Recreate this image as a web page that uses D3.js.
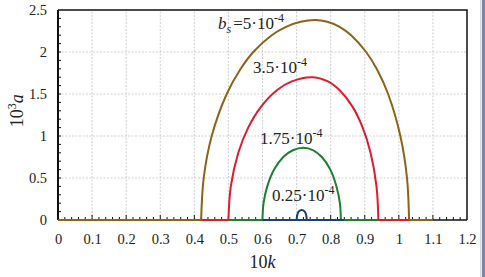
<!DOCTYPE html>
<html>
<head>
<meta charset="utf-8">
<script src="https://cdn.jsdelivr.net/npm/d3@7"></script>
<style>
  body { margin: 0; background: #fff; }
  text { font-family: "Liberation Serif", "Times New Roman", serif; fill: #222; }
</style>
</head>
<body>
<svg id="svg" width="485" height="277"></svg>
<script>
let svg = d3.select("#svg");

/* Data (k in units of 0.1, a in units of 1e-3) */
let xTicks = [0, 0.1, 0.2, 0.3, 0.4, 0.5, 0.6, 0.7, 0.8, 0.9, 1, 1.1, 1.2];
let yTicks = [0, 0.5, 1, 1.5, 2, 2.5];

let seriesNames = ["5e-4", "3.5e-4", "1.75e-4", "0.25e-4"];
let seriesColors = ["#8a6418", "#e01a2e", "#1e7e34", "#1f3c78"];
let baseFrom = [0, 0.42, 0.5, 0.6];
let baseTo = [1.1, 1.03, 0.94, 0.84];

let brownK = [0.42, 0.4275, 0.451, 0.495, 0.536, 0.573, 0.627, 0.669, 0.712, 0.755, 0.790, 0.826, 0.860, 0.904, 0.935, 0.9685, 1.0045, 1.024, 1.03];
let brownA = [0, 0.5, 1.0, 1.5, 1.8, 2.0, 2.2, 2.3, 2.36, 2.38, 2.36, 2.3, 2.2, 2.0, 1.8, 1.5, 1.0, 0.5, 0];

let redK = [0.50, 0.507, 0.529, 0.558, 0.596, 0.644, 0.686, 0.745, 0.792, 0.825, 0.864, 0.894, 0.917, 0.9345, 0.94];
let redA = [0, 0.4, 0.8, 1.1, 1.35, 1.55, 1.65, 1.70, 1.65, 1.55, 1.35, 1.1, 0.8, 0.4, 0];

let greenK = [0.600, 0.603, 0.614, 0.634, 0.661, 0.689, 0.72, 0.749, 0.774, 0.799, 0.817, 0.827, 0.83];
let greenA = [0, 0.2, 0.4, 0.6, 0.75, 0.83, 0.86, 0.83, 0.75, 0.6, 0.4, 0.2, 0];

let blueK = [0.700, 0.702, 0.706, 0.715, 0.724, 0.728, 0.73];
let blueA = [0, 0.06, 0.1, 0.12, 0.1, 0.06, 0];

let curvesK = [brownK, redK, greenK, blueK];
let curvesA = [brownA, redA, greenA, blueA];

let margin = { left: 58, right: 18, top: 10, bottom: 57 };
let W = 485, H = 277;

let x = d3.scaleLinear().domain([0, 1.2]).range([margin.left, W - margin.right]);
let y = d3.scaleLinear().domain([0, 2.5]).range([H - margin.bottom, margin.top]);

svg.append("rect").attr("width", W).attr("height", H).attr("fill", "#fff");

/* Grid */
let grid = svg.append("g")
  .attr("stroke", "#c4c4c4")
  .attr("stroke-width", 0.8)
  .attr("stroke-dasharray", "2,1.5");
d3.range(1, 12).map(d => d / 10).forEach(d => {
  grid.append("line")
    .attr("x1", x(d)).attr("x2", x(d))
    .attr("y1", y(0)).attr("y2", y(2.5));
});
yTicks.slice(1, -1).forEach(d => {
  grid.append("line")
    .attr("x1", x(0)).attr("x2", x(1.2))
    .attr("y1", y(d)).attr("y2", y(d));
});

/* Frame top + right */
svg.append("path")
  .attr("d", `M${x(0)},${y(2.5)}H${x(1.2)}V${y(0)}`)
  .attr("fill", "none")
  .attr("stroke", "#111")
  .attr("stroke-width", 1.5);

/* Axes */
let yAxis = d3.axisLeft(y).tickValues(yTicks).tickSize(0).tickPadding(11)
  .tickFormat(d3.format("~g"));
let gy = svg.append("g").attr("transform", `translate(${x(0)},0)`).call(yAxis);
gy.select(".domain").remove();
gy.selectAll("text").style("font-size", "14.5px").style("font-family", "Liberation Serif").attr("fill", "#222");

let xAxis = d3.axisBottom(x).tickValues(xTicks).tickSize(0).tickPadding(14)
  .tickFormat(d3.format("~g"));
let gx = svg.append("g").attr("transform", `translate(0,${y(0)})`).call(xAxis);
gx.select(".domain").remove();
gx.selectAll("text").style("font-size", "14.5px").style("font-family", "Liberation Serif").attr("fill", "#222");

/* Minor ticks, inside */
let ticks = svg.append("g").attr("stroke", "#111").attr("stroke-width", 1);
d3.range(1, 25).map(d => d / 10).forEach(d => {
  ticks.append("line")
    .attr("x1", x(0)).attr("x2", x(0) + 3)
    .attr("y1", y(d)).attr("y2", y(d));
});
d3.range(1, 60).map(d => d / 50).forEach((d, i) => {
  let major = (i + 1) % 5 === 0;
  ticks.append("line")
    .attr("x1", x(d)).attr("x2", x(d))
    .attr("y1", y(0)).attr("y2", y(0) - (major ? 5 : 3));
});

svg.append("line")
  .attr("x1", x(0)).attr("x2", x(0))
  .attr("y1", y(0)).attr("y2", y(2.5))
  .attr("stroke", "#111").attr("stroke-width", 2);
svg.append("line")
  .attr("x1", x(0)).attr("x2", x(1.2))
  .attr("y1", y(0)).attr("y2", y(0))
  .attr("stroke", "#111").attr("stroke-width", 1.5);

/* Series */
let baseLine = d3.line().x(d => x(d[0])).y(d => y(d[1]));
let arcLine = d3.line().x(d => x(d[0])).y(d => y(d[1])).curve(d3.curveCatmullRom.alpha(0.5));

seriesNames.forEach((name, i) => {
  let col = seriesColors[i];
  svg.append("path")
    .attr("d", baseLine([[baseFrom[i], 0], [baseTo[i], 0]]))
    .attr("fill", "none").attr("stroke", col).attr("stroke-width", 2);
  let pts = curvesK[i].map((k, j) => [k, curvesA[i][j]]);
  svg.append("path")
    .attr("d", arcLine(pts))
    .attr("fill", "none").attr("stroke", col).attr("stroke-width", 2);
});

/* Series labels */
function sciLabel(tx, ty, mant, withBs) {
  let t = svg.append("text").attr("x", tx).attr("y", ty).style("font-size", "17px");
  if (withBs) {
    t.append("tspan").text("b").style("font-style", "italic");
    t.append("tspan").text("s").style("font-style", "italic").style("font-size", "12px").attr("dy", 4);
    t.append("tspan").text("=").attr("dy", -4).attr("dx", 2);
  }
  t.append("tspan").text(mant + "\u00b710");
  t.append("tspan").text("-4").style("font-size", "12px").attr("dy", -7);
}
sciLabel(218, 29, "5", true);
sciLabel(253, 73, "3.5", false);
sciLabel(260, 144, "1.75", false);
sciLabel(272, 201, "0.25", false);

/* Axis titles */
let xt = svg.append("text")
  .attr("x", (x(0) + x(1.2)) / 2)
  .attr("y", 268)
  .attr("text-anchor", "middle")
  .style("font-size", "18px");
xt.append("tspan").text("10");
xt.append("tspan").text("k").style("font-style", "italic");

let yt = svg.append("text")
  .attr("transform", `translate(23,${y(1.3)}) rotate(-90)`)
  .attr("text-anchor", "middle")
  .style("font-size", "18px");
yt.append("tspan").text("10");
yt.append("tspan").text("3").style("font-size", "12px").attr("dy", -7);
yt.append("tspan").text("a").style("font-style", "italic").attr("dy", 7);

/* Right edge strip */
svg.append("rect").attr("x", 480).attr("y", 0).attr("width", 1.5).attr("height", H).attr("fill", "#d6d8e0");
svg.append("rect").attr("x", 482).attr("y", 0).attr("width", 3).attr("height", H).attr("fill", "#7c86a8");
</script>
</body>
</html>
